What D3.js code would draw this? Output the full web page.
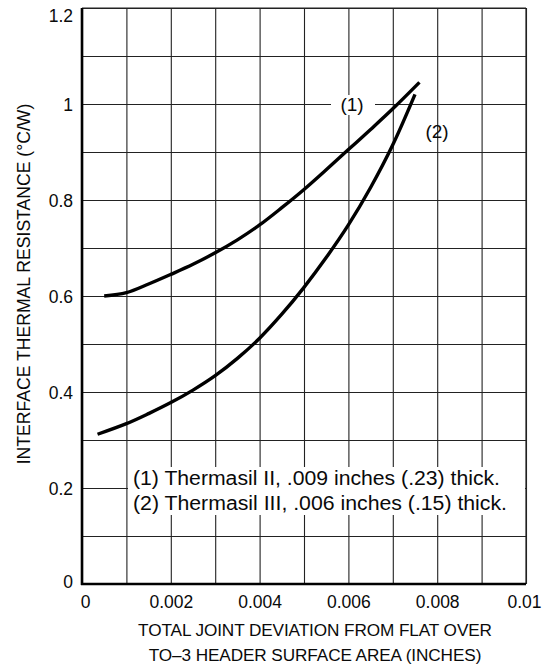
<!DOCTYPE html>
<html>
<head>
<meta charset="utf-8">
<script src="https://cdn.jsdelivr.net/npm/d3@7"></script>
<style>
  html, body { margin: 0; padding: 0; background: #fff; }
  svg { display: block; }
  text { font-family: "Liberation Sans", Arial, Helvetica, sans-serif; fill: #0a0a0a; }
</style>
</head>
<body>
<svg id="chart" width="542" height="669"></svg>
<script>
// ---- data ----
const xTickValues = [0, 0.002, 0.004, 0.006, 0.008, 0.01];
const xTickLabels = ["0", "0.002", "0.004", "0.006", "0.008", "0.01"];
const yTickValues = [0, 0.2, 0.4, 0.6, 0.8, 1.0, 1.2];
const yTickLabels = ["0", "0.2", "0.4", "0.6", "0.8", "1", "1.2"];
const xGrid = [0, 0.001, 0.002, 0.003, 0.004, 0.005, 0.006, 0.007, 0.008, 0.009, 0.01];
const yGrid = [0, 0.1, 0.2, 0.3, 0.4, 0.5, 0.6, 0.7, 0.8, 0.9, 1.0, 1.1, 1.2];

const s1x = [0.0005, 0.001, 0.0015, 0.002, 0.0025, 0.003, 0.0035, 0.004, 0.0045, 0.005, 0.0055, 0.006, 0.0065, 0.007, 0.0076];
const s1y = [0.600, 0.607, 0.625, 0.645, 0.666, 0.690, 0.717, 0.748, 0.784, 0.822, 0.863, 0.905, 0.947, 0.990, 1.045];
const s2x = [0.00035, 0.001, 0.0015, 0.002, 0.0025, 0.003, 0.0035, 0.004, 0.0045, 0.005, 0.0055, 0.006, 0.0065, 0.007, 0.0075];
const s2y = [0.312, 0.334, 0.355, 0.378, 0.404, 0.434, 0.470, 0.512, 0.562, 0.618, 0.680, 0.748, 0.826, 0.915, 1.020];

const legendLines = ["(1) Thermasil II, .009 inches (.23) thick.", "(2) Thermasil III, .006 inches (.15) thick."];
const curveLabels = ["(1)", "(2)"];
const xTitle = ["TOTAL JOINT DEVIATION FROM FLAT OVER", "TO\u20133 HEADER SURFACE AREA (INCHES)"];
const yTitle = "INTERFACE THERMAL RESISTANCE (\u00B0C/W)";

// ---- layout ----
const L = 82, R = 526, T = 8, B = 584;
const svg = d3.select("#chart");
const x = d3.scaleLinear().domain([0, 0.01]).range([L, R]);
const y = d3.scaleLinear().domain([0, 1.2]).range([B, T]);

// grid
svg.append("g").attr("transform", `translate(0,${B})`)
  .call(d3.axisBottom(x).tickValues(xGrid).tickSize(-(B - T)).tickFormat(""))
  .call(g => g.select(".domain").remove())
  .call(g => g.selectAll("line").attr("stroke", "#222").attr("stroke-width", 1.1));
svg.append("g").attr("transform", `translate(${L},0)`)
  .call(d3.axisLeft(y).tickValues(yGrid).tickSize(-(R - L)).tickFormat(""))
  .call(g => g.select(".domain").remove())
  .call(g => g.selectAll("line").attr("stroke", "#222").attr("stroke-width", 1.1));

// frame
svg.append("line").attr("x1", L).attr("x2", R).attr("y1", T).attr("y2", T).attr("stroke", "#222").attr("stroke-width", 1.2);
svg.append("line").attr("x1", R).attr("x2", R).attr("y1", T).attr("y2", B).attr("stroke", "#222").attr("stroke-width", 1.2);

// curves
const line = d3.line().x(d => x(d[0])).y(d => y(d[1])).curve(d3.curveCatmullRom.alpha(0.5));
const d1 = s1x.map((v, i) => [v, s1y[i]]);
const d2 = s2x.map((v, i) => [v, s2y[i]]);
[d1, d2].forEach(d => {
  svg.append("path").datum(d).attr("d", line)
    .attr("fill", "none").attr("stroke", "#000").attr("stroke-width", 3.4)
    .attr("stroke-linecap", "butt");
});

// legend box
svg.append("rect").attr("x", 128).attr("y", 467).attr("width", 397).attr("height", 48).attr("fill", "#fff");
svg.selectAll("text.leg").data(legendLines).enter().append("text")
  .attr("class", "leg")
  .attr("x", 133).attr("y", (d, i) => 485 + i * 25)
  .attr("font-size", 20)
  .attr("textLength", (d, i) => i === 0 ? 367 : 374)
  .attr("lengthAdjust", "spacingAndGlyphs")
  .text(d => d);

// curve labels
svg.append("rect").attr("x", 331).attr("y", 95).attr("width", 44).attr("height", 20).attr("fill", "#fff");
svg.append("text").attr("x", 352).attr("y", 111).attr("text-anchor", "middle").attr("font-size", 19).text(curveLabels[0]);
svg.append("text").attr("x", 437).attr("y", 138).attr("text-anchor", "middle").attr("font-size", 19).text(curveLabels[1]);

// axes lines (thick)
svg.append("line").attr("x1", L).attr("x2", L).attr("y1", T).attr("y2", B + 1).attr("stroke", "#000").attr("stroke-width", 2.6);
svg.append("line").attr("x1", L - 1).attr("x2", R).attr("y1", B).attr("y2", B).attr("stroke", "#000").attr("stroke-width", 2.6);

// tick labels
const xa = svg.append("g").attr("transform", `translate(0,${B})`)
  .call(d3.axisBottom(x).tickValues(xTickValues).tickSize(0).tickPadding(0)
    .tickFormat((d, i) => xTickLabels[i]));
xa.select(".domain").remove();
xa.selectAll("text").attr("font-size", 17.5).attr("dy", null).attr("y", 24)
  .attr("font-family", "Liberation Sans, Arial, sans-serif").attr("fill", "#0a0a0a")
  .attr("dx", (d, i) => i === 0 ? 3 : (i === xTickValues.length - 1 ? -2 : 0));

const ya = svg.append("g").attr("transform", `translate(${L},0)`)
  .call(d3.axisLeft(y).tickValues(yTickValues).tickSize(0).tickPadding(9)
    .tickFormat((d, i) => yTickLabels[i]));
ya.select(".domain").remove();
ya.selectAll("text").attr("font-size", 17.5).attr("dy", "0.35em")
  .attr("font-family", "Liberation Sans, Arial, sans-serif").attr("fill", "#0a0a0a")
  .attr("y", (d, i) => i === yTickValues.length - 1 ? 7 : (i === 0 ? -3 : 0));

// axis titles
svg.selectAll("text.xt").data(xTitle).enter().append("text")
  .attr("class", "xt")
  .attr("x", 315).attr("y", (d, i) => 636 + i * 25)
  .attr("text-anchor", "middle")
  .attr("font-size", 17.2)
  .attr("letter-spacing", -0.1)
  .text(d => d);

svg.append("text")
  .attr("transform", "translate(30,284) rotate(-90)")
  .attr("text-anchor", "middle")
  .attr("font-size", 17.6)
  .text(yTitle);
</script>
</body>
</html>
